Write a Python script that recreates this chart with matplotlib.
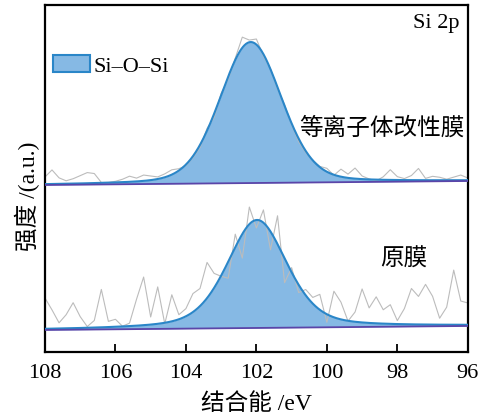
import numpy as np
import matplotlib.pyplot as plt
from matplotlib.patches import Patch

plt.rcParams['font.family'] = ['Liberation Serif', 'Noto Sans CJK SC']

# binding energy of the raw scans (eV), 0.2 eV step
energy = np.round(np.arange(108.0, 95.9, -0.2), 1)

# raw Si 2p counts above background (a.u.)
raw_plasma = [8, 15, 7, 4, 6, 9, 12, 11, 2, 2,
              3, 5, 8, 6, 9, 8, 7, 10, 14, 15,
              18, 26, 36, 55, 66, 90, 104, 125, 146, 143,
              144, 127, 114, 94, 78, 58, 41, 30, 22, 16,
              14, 7, 13, 8, 14, 6, 3, 1, 5, 12,
              5, 3, 6, 13, 3, 5, 4, 2, 4, 6, 3]
raw_pristine = [32, 20, 7, 15, 27, 13, 3, 9, 40, 8,
                10, 3, 6, 30, 52, 12, 42, 5, 34, 14,
                20, 35, 40, 66, 55, 52, 50, 94, 70, 121,
                100, 118, 78, 112, 45, 60, 35, 38, 30, 33,
                5, 36, 25, 6, 15, 38, 19, 30, 17, 22,
                6, 18, 38, 30, 42, 30, 8, 19, 56, 25, 23]

# linear background at 108 eV and 96 eV (stacked offsets)
bg_plasma = (167, 171)
bg_pristine = (22, 26)

# Si-O-Si component: position (eV), height, FWHM (eV), Lorentzian fraction
fit_plasma = dict(center=102.16, height=141, fwhm=2.06, eta=0.2)
fit_pristine = dict(center=101.98, height=108, fwhm=2.0, eta=0.4)


def pseudo_voigt(e, center, height, fwhm, eta):
    r2 = ((e - center) / (fwhm / 2)) ** 2
    return height * (eta / (1 + r2) + (1 - eta) * np.exp(-np.log(2) * r2))


def background(e, ends):
    return ends[0] + (ends[1] - ends[0]) * (108.0 - e) / 12.0


fill_c = '#86b9e4'
edge_c = '#2a86c8'
base_c = '#5b45a8'
raw_c = '#bcbcbc'

fig, ax = plt.subplots(figsize=(4.94, 4.18), dpi=100)
fig.subplots_adjust(left=0.091, right=0.947, bottom=0.158, top=0.988)

fine = np.linspace(108, 96, 800)
for raw, bg, fit in [(raw_plasma, bg_plasma, fit_plasma),
                     (raw_pristine, bg_pristine, fit_pristine)]:
    base = background(fine, bg)
    peak = base + pseudo_voigt(fine, **fit)
    ax.fill_between(fine, base, peak, color=fill_c, lw=0, zorder=1)
    ax.plot(energy, background(energy, bg) + np.array(raw), color=raw_c, lw=0.8, zorder=2)
    ax.plot(fine, peak, color=edge_c, lw=1.5, zorder=3)
    ax.plot(fine, base, color=base_c, lw=1.3, zorder=4)

ax.set_xlim(108, 96)
ax.set_ylim(0, 347)
ax.set_xticks(range(108, 95, -2))
ax.set_yticks([])
ax.tick_params(axis='x', direction='in', length=6, width=1.3, labelsize=16, pad=9)
for s in ax.spines.values():
    s.set_linewidth(1.6)

ax.set_xlabel('结合能 /eV', fontsize=17, labelpad=7)
ax.set_ylabel('强度 /(a.u.)', fontsize=17)
ax.yaxis.set_label_coords(-0.012, 0.448)

ax.text(0.981, 0.948, 'Si 2p', transform=ax.transAxes, ha='right', va='center', fontsize=16)
ax.text(98.44, 223, '等离子体改性膜', ha='center', va='center', fontsize=17)
ax.text(97.83, 92, '原膜', ha='center', va='center', fontsize=17)

handle = Patch(facecolor=fill_c, edgecolor=edge_c, lw=1.5)
ax.legend([handle], ['Si–O–Si'], loc='upper left', bbox_to_anchor=(0.019, 0.855),
          frameon=False, fontsize=16, handlelength=1.67, handleheight=0.8,
          handletextpad=0.15, borderpad=0, borderaxespad=0)

fig.savefig('out.png', dpi=100)
